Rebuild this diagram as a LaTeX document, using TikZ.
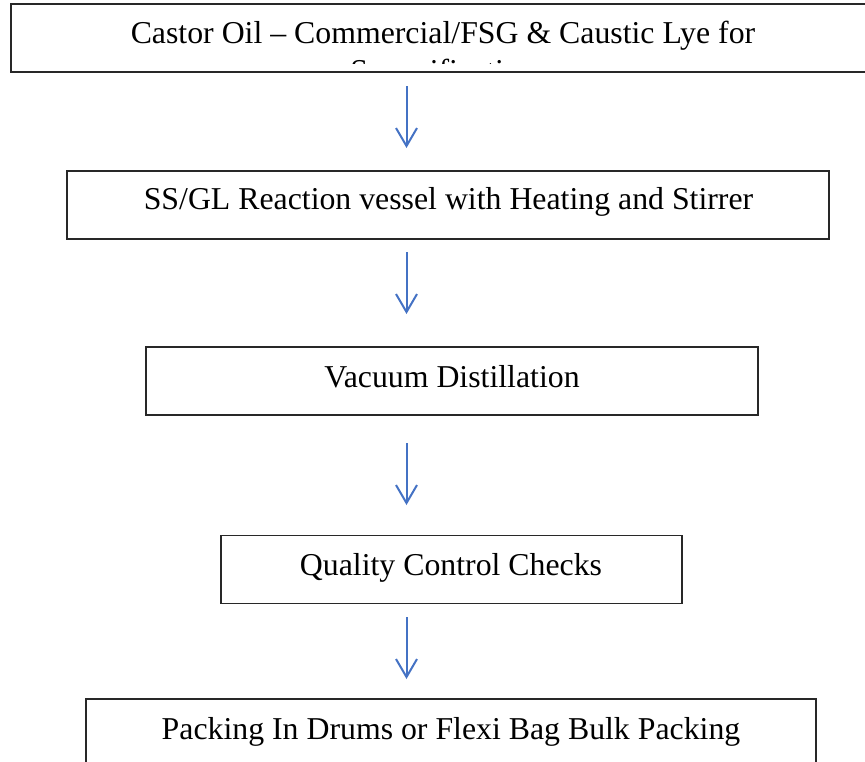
\documentclass[tikz,border=0pt]{standalone}
\usepackage{fontspec}
\setmainfont{Liberation Serif}
\usetikzlibrary{arrows.meta}
\definecolor{arrblue}{RGB}{68,114,196}
\definecolor{boxline}{RGB}{40,40,40}
\tikzset{
  box/.style={draw=boxline, line width=1.2pt, fill=none, inner sep=0pt},
  txt/.style={inner sep=0pt, font=\fontsize{31.8}{36}\selectfont, anchor=base},
  flowarrow/.style={draw=arrblue, line width=2pt, -{Straight Barb[length=18pt,width=21pt,line width=2pt]}}
}
\begin{document}
\begin{tikzpicture}[x=1pt,y=-1pt]
\useasboundingbox (0,0) rectangle (865,761);
% Box 1 (extends beyond right edge, text clipped)
\node[box, minimum width=869pt, minimum height=68pt] (b1) at (445.5,38) {};
\begin{scope}
  \clip (11,4) rectangle (880,63);
  \node[txt] (t1) at (443,43.5) {Castor Oil – Commercial/FSG \& Caustic Lye for};
  \node[txt] (t1b) at (443,81) {Saponification};
\end{scope}
% Box 2
\node[box, minimum width=762pt, minimum height=68pt] (b2) at (448,205) {};
\node[txt] (t2) at (448.5,209.5) {SS/GL Reaction vessel with Heating and Stirrer};
% Box 3
\node[box, minimum width=612pt, minimum height=68pt] (b3) at (452,381) {};
\node[txt] (t3) at (452,387) {Vacuum Distillation};
% Box 4
\node[box, minimum width=461pt, minimum height=68pt] (b4) at (451.5,569.5) {};
\node[txt] (t4) at (451,575.5) {Quality Control Checks};
% Box 5 (extends beyond bottom edge)
\node[box, minimum width=730pt, minimum height=80pt] (b5) at (451,739) {};
\node[txt] (t5) at (451,739.5) {Packing In Drums or Flexi Bag Bulk Packing};
% Arrows
\coordinate (a1s) at (406.5,86);  \coordinate (a1e) at (406.5,148);
\coordinate (a2s) at (406.5,252); \coordinate (a2e) at (406.5,314);
\coordinate (a3s) at (406.5,443); \coordinate (a3e) at (406.5,505);
\coordinate (a4s) at (406.5,617); \coordinate (a4e) at (406.5,679);
\draw[flowarrow] (a1s) -- (a1e);
\draw[flowarrow] (a2s) -- (a2e);
\draw[flowarrow] (a3s) -- (a3e);
\draw[flowarrow] (a4s) -- (a4e);
\end{tikzpicture}
\end{document}
